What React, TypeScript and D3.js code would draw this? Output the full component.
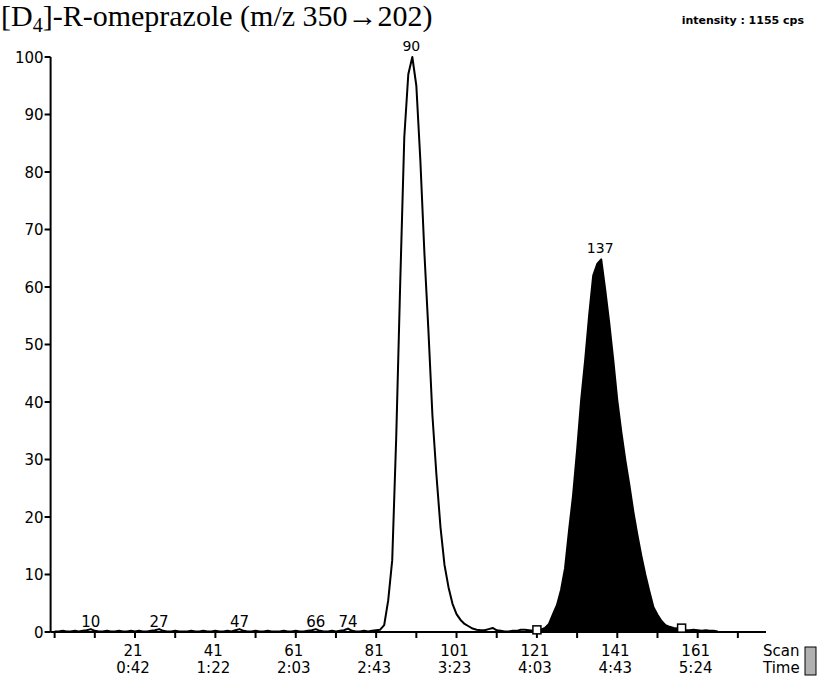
import React from "react";
import * as d3 from "d3";

// ---- data ----
const firstScan = 1;
const intensity: number[] = [
  0.1, 0.1, 0.2, 0.1, 0.1, 0.2, 0.1, 0.2, 0.3, 0.5, // 1-10
  0.2, 0.1, 0.1, 0.2, 0.1, 0.1, 0.2, 0.1, 0.1, 0.2, // 11-20
  0.1, 0.2, 0.1, 0.1, 0.2, 0.3, 0.5, 0.2, 0.1, 0.1, // 21-30
  0.2, 0.1, 0.1, 0.1, 0.2, 0.1, 0.1, 0.2, 0.1, 0.1, // 31-40
  0.2, 0.1, 0.1, 0.2, 0.1, 0.3, 0.5, 0.2, 0.1, 0.1, // 41-50
  0.2, 0.1, 0.1, 0.2, 0.1, 0.1, 0.1, 0.2, 0.1, 0.1, // 51-60
  0.2, 0.1, 0.1, 0.2, 0.3, 0.5, 0.2, 0.1, 0.1, 0.2, // 61-70
  0.1, 0.2, 0.3, 0.6, 0.2, 0.1, 0.1, 0.2, 0.1, 0.2, // 71-80
  0.3, 0.4, 1.2, 5.5, 12.5, 34, 61, 86, 97, 100,     // 81-90
  95, 82, 66, 52.5, 37.7, 27.3, 18.3, 11.7, 7.8, 4.9, // 91-100
  3.1, 2.1, 1.4, 1.0, 0.6, 0.4, 0.3, 0.3, 0.5, 0.7,   // 101-110
  0.3, 0.2, 0.1, 0.1, 0.2, 0.2, 0.4, 0.4, 0.3, 0.2,   // 111-120
  0.2, 0.4, 0.7, 1.4, 3.1, 4.7, 7.3, 11.1, 17.7, 23.8, // 121-130
  31.7, 40.3, 47.3, 55.1, 62.0, 64.0, 64.8, 59.5, 53.7, 47.3, // 131-140
  40.3, 34.8, 29.9, 25.6, 20.9, 16.9, 13.2, 9.9, 7.0, 4.3,   // 141-150
  3.0, 1.9, 1.2, 0.9, 0.7, 0.6, 0.5, 0.3, 0.3, 0.4,   // 151-160
  0.3, 0.2, 0.3, 0.2, 0.2, 0.1,                       // 161-166
];
const peakLabels = [10, 27, 47, 66, 74, 90, 137];
const shadedStart = 121;
const shadedEnd = 157;
const scanTicks = [21, 41, 61, 81, 101, 121, 141, 161];
const timeTicks = ["0:42", "1:22", "2:03", "2:43", "3:23", "4:03", "4:43", "5:24"];
const minorTicks = [1, 11, 21, 31, 41, 51, 61, 71, 81, 91, 101, 111, 121, 131, 141, 151, 161, 171];
const yTicks = [0, 10, 20, 30, 40, 50, 60, 70, 80, 90, 100];
const title = "-R-omeprazole (m/z 350\u2192202)";
const intensityText = "intensity : 1155 cps";

type Pt = { scan: number; v: number };
const points: Pt[] = intensity.map((v, i) => ({ scan: firstScan + i, v }));

export default function App() {
  const W = 822;
  const H = 678;
  const x = d3.scaleLinear().domain([0, 178]).range([50.6, 766]);
  const y = d3.scaleLinear().domain([0, 100]).range([632, 57]);

  const line = d3
    .line<Pt>()
    .x((d) => x(d.scan))
    .y((d) => y(d.v));
  const area = d3
    .area<Pt>()
    .x((d) => x(d.scan))
    .y0(y(0))
    .y1((d) => y(d.v));
  const shaded = points.filter((d) => d.scan >= shadedStart && d.scan <= shadedEnd);

  const sans = "'DejaVu Sans', sans-serif";
  const get = (s: number) => points.find((p) => p.scan === s)!;

  return (
    <svg
      width={W}
      height={H}
      style={{ position: "absolute", left: 0, top: 0, background: "#fff" }}
    >
      <rect x={0} y={0} width={W} height={H} fill="#fff" />
      {/* title */}
      <text
        x={1}
        y={26}
        fontFamily="'Liberation Serif', 'Times New Roman', serif"
        fontSize={30}
        fill="#000"
      >
        [D
        <tspan fontSize={20} dy={6}>4</tspan>
        <tspan dy={-6}>]{title}</tspan>
      </text>
      <text
        x={804}
        y={24}
        textAnchor="end"
        fontFamily={sans}
        fontSize={11}
        fontWeight="bold"
        fill="#000"
      >
        {intensityText}
      </text>

      {/* shaded peak */}
      <path d={area(shaded) || ""} fill="#000" stroke="none" />
      {/* trace */}
      <path
        d={line(points) || ""}
        fill="none"
        stroke="#000"
        strokeWidth={2}
        strokeLinejoin="round"
      />

      {/* y axis */}
      <line x1={x(0)} x2={x(0)} y1={y(100)} y2={y(0)} stroke="#000" strokeWidth={2} />
      {yTicks.map((t) => (
        <g key={"y" + t}>
          <line x1={x(0) - 6} x2={x(0)} y1={y(t)} y2={y(t)} stroke="#000" strokeWidth={2} />
          <text
            x={x(0) - 7}
            y={y(t) + 5.5}
            textAnchor="end"
            fontFamily={sans}
            fontSize={15}
            fill="#000"
          >
            {t}
          </text>
        </g>
      ))}

      {/* x axis */}
      <line x1={x(0)} x2={x(178)} y1={y(0)} y2={y(0)} stroke="#000" strokeWidth={2} />
      {minorTicks.map((t) => (
        <line
          key={"m" + t}
          x1={x(t)}
          x2={x(t)}
          y1={y(0)}
          y2={y(0) + 6}
          stroke="#000"
          strokeWidth={2}
        />
      ))}
      {scanTicks.map((t, i) => (
        <g key={"s" + t}>
          <text x={x(t) - 2} y={656} textAnchor="middle" fontFamily={sans} fontSize={15} fill="#000">
            {t}
          </text>
          <text x={x(t) - 2} y={673} textAnchor="middle" fontFamily={sans} fontSize={15} fill="#000">
            {timeTicks[i]}
          </text>
        </g>
      ))}
      <text x={763} y={656} fontFamily={sans} fontSize={15} fill="#000">
        Scan
      </text>
      <text x={763} y={673} fontFamily={sans} fontSize={15} fill="#000">
        Time
      </text>
      <rect x={805} y={647} width={11} height={28} fill="#b0b0b0" stroke="#000" strokeWidth={1} />

      {/* peak labels */}
      {peakLabels.map((s) => {
        const p = get(s);
        const big = p.v > 5;
        return (
          <text
            key={"p" + s}
            x={x(s) + (big ? -1 : 0)}
            y={big ? y(p.v) - 6 : 627}
            textAnchor="middle"
            fontFamily={sans}
            fontSize={big ? 14 : 15}
            fill="#000"
          >
            {s}
          </text>
        );
      })}

      {/* integration markers */}
      {[shadedStart, shadedEnd].map((s) => (
        <rect
          key={"q" + s}
          x={x(s) - 4}
          y={y(get(s).v) - 5}
          width={8}
          height={8}
          fill="#fff"
          stroke="#000"
          strokeWidth={1.5}
        />
      ))}
    </svg>
  );
}
